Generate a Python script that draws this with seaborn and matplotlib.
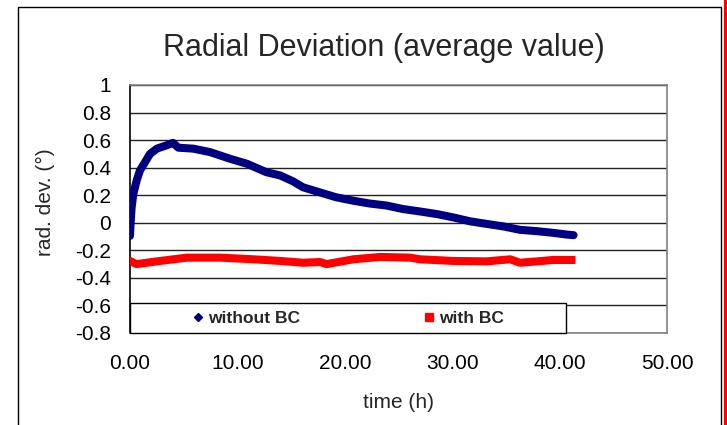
import matplotlib
matplotlib.use("Agg")
import matplotlib.pyplot as plt
from matplotlib.lines import Line2D
from matplotlib.patches import Rectangle
import pandas as pd
import seaborn as sns

# Values
t_without = [0.0, 0.05, 0.15, 0.31, 0.47, 0.62, 0.93, 1.4, 1.86, 2.5, 3.4, 4.0, 4.5,
             5.9, 7.45, 9.3, 10.9, 12.7, 14.0, 15.2, 16.1, 17.7, 19.2, 20.8, 22.3,
             23.9, 25.4, 27.0, 28.6, 30.1, 31.7, 33.2, 34.8, 36.3, 37.9, 39.4, 40.6, 41.3]
dev_without = [-0.095, -0.01, 0.11, 0.21, 0.26, 0.307, 0.38, 0.44, 0.50, 0.538, 0.562,
               0.58, 0.545, 0.538, 0.513, 0.465, 0.428, 0.367, 0.343, 0.30, 0.258, 0.22,
               0.185, 0.16, 0.14, 0.125, 0.10, 0.082, 0.063, 0.039, 0.01, -0.008, -0.027,
               -0.051, -0.061, -0.073, -0.085, -0.09]

t_with = [0.0, 0.6, 2.8, 5.3, 8.4, 11.5, 14.0, 16.1, 17.7, 18.3, 20.8, 23.3, 26.1,
          27.0, 30.1, 33.2, 35.4, 36.3, 37.9, 39.4, 41.1]
dev_with = [-0.277, -0.30, -0.277, -0.253, -0.253, -0.265, -0.277, -0.29, -0.285, -0.30,
            -0.265, -0.248, -0.253, -0.265, -0.277, -0.28, -0.265, -0.29, -0.28, -0.27, -0.27]

series_names = ["without BC", "with BC"]
x_ticks = [0, 10, 20, 30, 40, 50]
y_ticks = [1, 0.8, 0.6, 0.4, 0.2, 0, -0.2, -0.4, -0.6, -0.8]

NAVY = "#000080"
RED = "#FF0000"

sns.set_theme(style="white")
plt.rcParams["font.family"] = ["Liberation Sans", "DejaVu Sans"]
plt.rcParams["axes.unicode_minus"] = False

df_without = pd.DataFrame({"time": t_without, "dev": dev_without})
df_with = pd.DataFrame({"time": t_with, "dev": dev_with})

fig = plt.figure(figsize=(7.27, 4.25), dpi=100)
ax = fig.add_axes([130 / 727, 1 - 333 / 425, 537 / 727, 248 / 425])

sns.lineplot(data=df_with, x="time", y="dev", color=RED, lw=5.8,
             solid_capstyle="projecting", ax=ax, zorder=3)
sns.lineplot(data=df_without, x="time", y="dev", color=NAVY, lw=5.8,
             solid_capstyle="round", ax=ax, zorder=3)

ax.set_xlim(0, 50)
ax.set_ylim(-0.8, 1)
ax.set_xticks(x_ticks)
ax.set_xticklabels([f"{v:.2f}" for v in x_ticks])
ax.set_yticks(y_ticks)
ax.set_yticklabels([f"{v:g}" for v in y_ticks])
ax.set_xlabel("")
ax.set_ylabel("")
ax.tick_params(axis="both", labelsize=15, colors="#000000", direction="out")
ax.tick_params(axis="y", length=4.3, width=1, pad=9.5, color="#555555")
ax.tick_params(axis="x", length=4.3, width=1, pad=11, color="#555555")
ax.yaxis.grid(True, color="#222222", lw=1)
ax.set_axisbelow(True)
ax.spines["left"].set_color("#000000")
for side in ["top", "right", "bottom"]:
    ax.spines[side].set_color("#808080")
for side in ax.spines:
    ax.spines[side].set_linewidth(1.2)

# legend box sitting on the bottom of the plot area
ax.add_patch(Rectangle((0, 0), 436 / 537, 30 / 248, transform=ax.transAxes,
                       facecolor="white", edgecolor="#000000", lw=1, zorder=4, clip_on=False))
handles = [Line2D([], [], ls="none", marker="D", markersize=4.5, color=NAVY),
           Line2D([], [], ls="none", marker="s", markersize=5.5, color=RED)]
ax.legend(handles, series_names, loc="center left", bbox_to_anchor=(52 / 537, 15 / 248),
          ncol=2, frameon=False, borderpad=0, handlelength=0.8, handletextpad=0.2,
          columnspacing=7.0, prop={"weight": "bold", "size": 12.5}).set_zorder(5)

fig.text(384 / 727, 1 - 48 / 425, "Radial Deviation (average value)", fontsize=22,
         ha="center", va="center")
fig.text(398 / 727, 1 - 402 / 425, "time (h)", fontsize=15, ha="center", va="center")
fig.text(45 / 727, 1 - 202 / 425, "rad. dev. (\u00b0)", fontsize=15, rotation=90,
         ha="center", va="center")

# outer chart frame and the red strip on the right edge
fig.add_artist(Line2D([18 / 727, 18 / 727, 721 / 727, 721 / 727], [0, 1 - 7 / 425, 1 - 7 / 425, 0],
                      transform=fig.transFigure, color="#000000", lw=1))
fig.add_artist(Rectangle((724 / 727, 0), 3 / 727, 1, transform=fig.transFigure,
                         facecolor=RED, edgecolor="none"))

fig.savefig("out.png", dpi=100)
